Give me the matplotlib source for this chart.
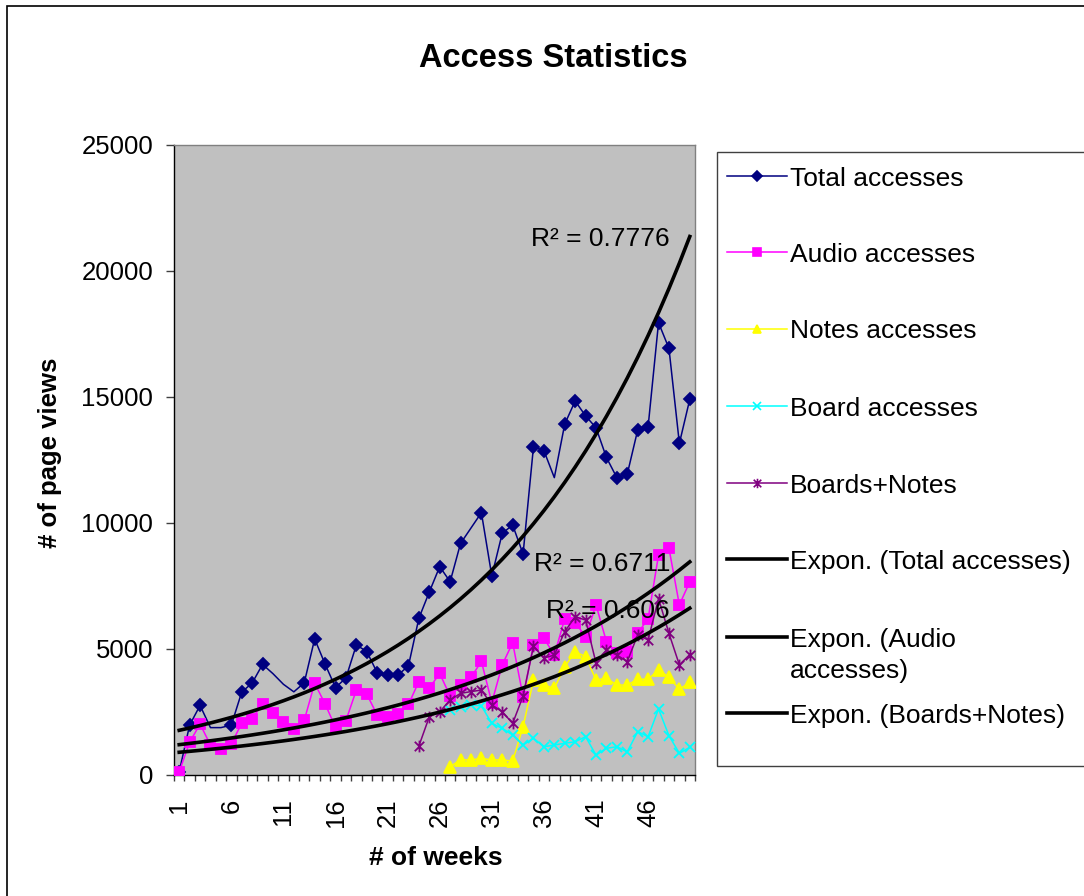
import numpy as np
import matplotlib
matplotlib.use('Agg')
import matplotlib.pyplot as plt
from matplotlib.lines import Line2D
from matplotlib.patches import Rectangle
from matplotlib.path import Path

plt.rcParams['font.family'] = ['Liberation Sans', 'DejaVu Sans']

# weekly page views
weeks = np.arange(1, 51)
total = [130, 1980, 2760, 1880, 1880, 1980, 3290, 3650, 4390, 4020,
         3600, 3300, 3660, 5400, 4400, 3470, 3850, 5160, 4900, 4060,
         3970, 3970, 4330, 6220, 7260, 8270, 7670, 9190, 9800, 10410,
         7900, 9590, 9920, 8770, 13030, 12870, 11800, 13930, 14840, 14250,
         13780, 12600, 11800, 11940, 13690, 13820, 17950, 16930, 13160, 14910]
audio = [130, 1300, 2020, 1190, 1030, 1230, 2060, 2240, 2830, 2450,
         2120, 1820, 2170, 3640, 2820, 1890, 2160, 3370, 3210, 2380,
         2310, 2420, 2800, 3710, 3450, 4030, 3130, 3570, 3870, 4510,
         2870, 4370, 5250, 3110, 5160, 5430, 4760, 6200, 6050, 5490,
         6750, 5290, 4840, 4900, 5630, 6200, 8730, 9000, 6750, 7670]
notes_weeks = np.arange(27, 51)
notes = [330, 600, 600, 660, 600, 600, 550, 1920, 3770, 3570, 3440, 4300,
         4890, 4700, 3770, 3840, 3570, 3570, 3800, 3800, 4170, 3880, 3400, 3680]
board_weeks = np.arange(27, 51)
board = [2580, 2710, 2780, 2740, 2050, 1850, 1590, 1190, 1460, 1120, 1190, 1260,
         1320, 1520, 790, 1060, 1120, 920, 1720, 1520, 2620, 1560, 860, 1100]
bn_weeks = np.arange(24, 51)
boards_notes = [1150, 2310, 2510, 2980, 3240, 3310, 3370, 2780, 2510, 2050,
                3130, 5110, 4640, 4760, 5690, 6280, 6150, 4440, 4960, 4760,
                4500, 5560, 5360, 7000, 5620, 4370, 4780]
r2_labels = ['R\u00b2 = 0.7776', 'R\u00b2 = 0.6711', 'R\u00b2 = 0.606']
xtick_weeks = weeks[::5]

W, H = 1084, 896
fig = plt.figure(figsize=(W / 100, H / 100), dpi=100)
ax = fig.add_axes([174 / W, 1 - 775 / H, (695 - 174) / W, (775 - 145) / H])
ax.set_facecolor('#C0C0C0')

star = Path([(-1, -1), (1, 1), (-1, 1), (1, -1), (0, -1.25), (0, 1.25)],
            [Path.MOVETO, Path.LINETO] * 3)

# weeks where the total line shows no marker in the original
no_mark = [3, 4, 9, 10, 11, 28, 36]
total_marks = [i for i in range(len(total)) if i not in no_mark]

styles = [
    ('Total accesses', weeks, total, '#000080', 'D', 6, '#000080', total_marks),
    ('Audio accesses', weeks, audio, '#FF00FF', 's', 7.5, '#FF00FF', None),
    ('Notes accesses', notes_weeks, notes, '#FFFF00', '^', 8, '#FFFF00', None),
    ('Board accesses', board_weeks, board, '#00FFFF', 'x', 7, 'none', None),
    ('Boards+Notes', bn_weeks, boards_notes, '#800080', star, 8.5, 'none', None),
]
for lab, x, y, c, m, ms, mfc, me in styles:
    ax.plot(x, y, color=c, lw=1.1, marker=m, ms=ms, mfc=mfc, mec=c,
            mew=1.3, markevery=me, zorder=3)


def expfit(x, y):
    b, lna = np.polyfit(x, np.log(y), 1)
    return np.exp(lna + b * weeks)


trends = [expfit(weeks, total), expfit(weeks, audio), expfit(bn_weeks, boards_notes)]
for tr, r2 in zip(trends, r2_labels):
    ax.plot(weeks, tr, color='black', lw=2.6, zorder=4)
    ax.text(48.1, tr[-1], r2, ha='right', va='center_baseline', fontsize=19, zorder=5)

ax.set_xlim(0.5, 50.5)
ax.set_ylim(0, 25000)
ax.set_yticks(range(0, 25001, 5000))
ax.set_yticklabels([str(v) for v in range(0, 25001, 5000)])
ax.tick_params(axis='y', direction='out', length=6, width=1, pad=9,
               labelsize=18.5, color='#404040')
ax.set_xticks(xtick_weeks)
ax.set_xticklabels([str(w) for w in xtick_weeks], rotation=90)
ax.tick_params(axis='x', which='major', length=0, pad=17, labelsize=18.5)
ax.set_xticks(np.arange(0.5, 50.6, 1), minor=True)
ax.tick_params(axis='x', which='minor', direction='out', length=4.5, width=1,
               color='#404040')
for s in ['left', 'bottom']:
    ax.spines[s].set_color('black')
    ax.spines[s].set_linewidth(1)
for s in ['top', 'right']:
    ax.spines[s].set_color('#808080')
    ax.spines[s].set_linewidth(1)

# chart frame
fig.add_artist(Rectangle((7 / W, -0.1), 1.2, 1.1 - 6 / H, transform=fig.transFigure,
                         fill=False, edgecolor='black', lw=1.2))

fig.text(553 / W, 1 - 55 / H, 'Access Statistics', ha='center', va='center_baseline',
         fontsize=23.5, fontweight='bold')
fig.text(436 / W, 1 - 855 / H, '# of weeks', ha='center', va='center_baseline',
         fontsize=19, fontweight='bold')
fig.text(50 / W, 1 - 453 / H, '# of page views', ha='center', va='center',
         rotation=90, fontsize=18.5, fontweight='bold')

# legend box, drawn by hand so it runs off the right edge like the original
fig.add_artist(Rectangle((717 / W, 1 - 766 / H), 1.0, (766 - 152) / H,
                         transform=fig.transFigure, facecolor='white',
                         edgecolor='#404040', lw=1))
rows = [176, 252, 329, 406, 483, 559, 637, 713]
entries = [(s[0], s[3], s[4], s[5] * 0.8, s[6], 1.1) for s in styles]
entries += [('Expon. (Total accesses)', 'black', None, 0, 'none', 2.6),
            ('Expon. (Audio\naccesses)', 'black', None, 0, 'none', 2.6),
            ('Expon. (Boards+Notes)', 'black', None, 0, 'none', 2.6)]
for yrow, (lab, c, m, ms, mfc, lw) in zip(rows, entries):
    yy = 1 - yrow / H
    fig.add_artist(Line2D([727 / W, 757 / W, 787 / W], [yy] * 3, color=c, lw=lw,
                          marker=m, ms=ms, mfc=mfc, mec=c, mew=1.2, markevery=[1],
                          transform=fig.transFigure))
    for k, line in enumerate(lab.split('\n')):
        fig.text(790 / W, 1 - (yrow + 31 * k) / H, line, ha='left',
                 va='center_baseline', fontsize=19)

fig.savefig('out.png', dpi=100)
